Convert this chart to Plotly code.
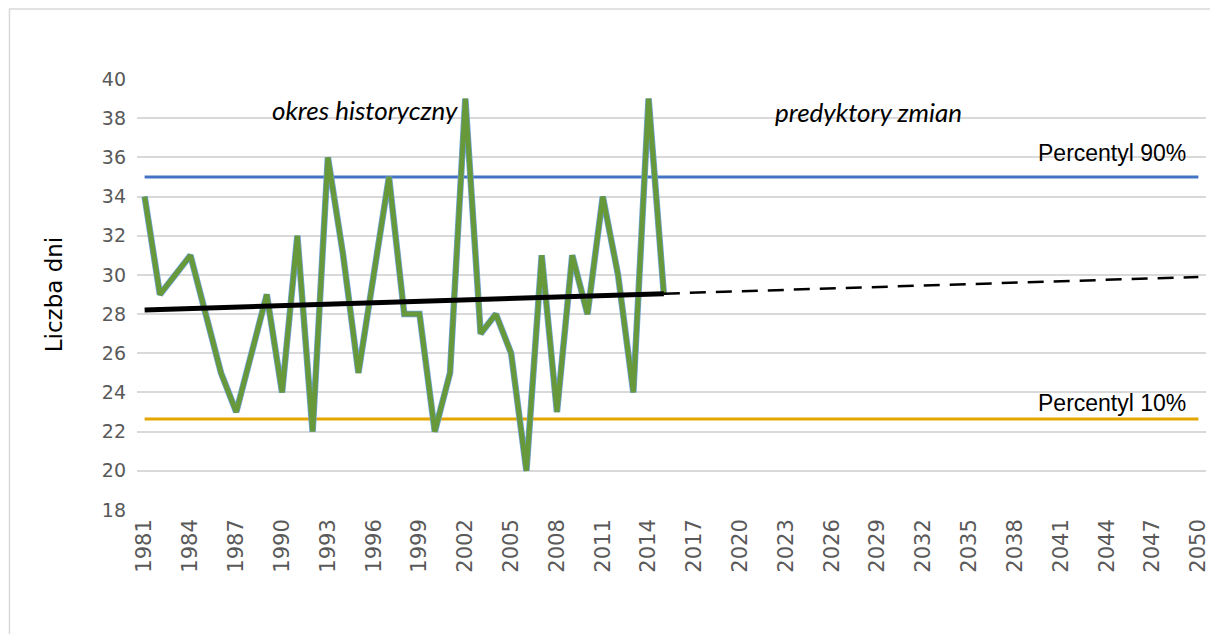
import numpy as np
import plotly.graph_objects as go

years_hist = list(range(1981, 2016))
values_hist = [34, 29, 30, 31, 28, 25, 23, 26, 29, 24,
               32, 22, 36, 31, 25, 30, 35, 28, 28, 22,
               25, 39, 27, 28, 26, 20, 31, 23, 31, 28,
               34, 30, 24, 39, 29]
all_years = list(range(1981, 2051))
tick_years = list(range(1981, 2051, 3))
p90 = 35.0
p10 = 22.65

# linear trend fitted to historical data
coef = np.polyfit(years_hist, values_hist, 1)
trend_hist_x = [1981, 2015]
trend_hist_y = [float(np.polyval(coef, x)) for x in trend_hist_x]
trend_fut_x = [2015, 2050]
trend_fut_y = [float(np.polyval(coef, x)) for x in trend_fut_x]

fig = go.Figure()
fig.add_trace(go.Scatter(x=[all_years[0], all_years[-1]], y=[p90, p90], mode="lines",
                         line=dict(color="#4472C4", width=3), hoverinfo="skip"))
fig.add_trace(go.Scatter(x=[all_years[0], all_years[-1]], y=[p10, p10], mode="lines",
                         line=dict(color="#E5A500", width=3), hoverinfo="skip"))
fig.add_trace(go.Scatter(x=years_hist, y=values_hist, mode="lines",
                         line=dict(color="#6FA1D6", width=6.5), hoverinfo="skip"))
fig.add_trace(go.Scatter(x=years_hist, y=values_hist, mode="lines",
                         line=dict(color="#67993B", width=5)))
fig.add_trace(go.Scatter(x=trend_hist_x, y=trend_hist_y, mode="lines",
                         line=dict(color="#000000", width=5)))
fig.add_trace(go.Scatter(x=trend_fut_x, y=trend_fut_y, mode="lines",
                         line=dict(color="#000000", width=2.5, dash="16px,10px")))

ann_font = dict(family="Lato, Carlito, sans-serif", size=26, color="#000000")
fig.add_annotation(x=1995.4, y=38.4, text="<i>okres historyczny</i>", showarrow=False,
                   font=ann_font)
fig.add_annotation(x=2028.4, y=38.3, text="<i>predyktory zmian</i>", showarrow=False,
                   font=ann_font)
lab_font = dict(family="Liberation Sans, Arial, sans-serif", size=23, color="#000000")
fig.add_annotation(x=2049.3, y=36.2, text="Percentyl 90%", showarrow=False,
                   xanchor="right", font=lab_font)
fig.add_annotation(x=2049.3, y=23.45, text="Percentyl 10%", showarrow=False,
                   xanchor="right", font=lab_font)

fig.add_shape(type="rect", xref="paper", yref="paper",
              x0=(9 - 137) / 1073, x1=1.02, y0=-0.32, y1=(510 - 9) / 431,
              line=dict(color="#D9D9D9", width=1.5), fillcolor="rgba(0,0,0,0)", layer="below")

fig.update_layout(
    width=1210, height=634,
    margin=dict(l=137, r=0, t=79, b=124),
    paper_bgcolor="white", plot_bgcolor="white",
    showlegend=False,
    font=dict(family="DejaVu Sans, sans-serif", color="#595959"),
)
fig.update_xaxes(range=[1980.5, 2050.5], tickmode="array", tickvals=tick_years,
                 ticktext=[str(y) for y in tick_years], tickangle=-90,
                 tickfont=dict(family="DejaVu Sans, sans-serif", size=21, color="#595959"),
                 showgrid=False, zeroline=False, showline=False, ticks="",
                 ticklabelstandoff=4, ticklabeloverflow="allow")
fig.update_yaxes(range=[18, 40], dtick=2, tick0=18, showgrid=True, gridcolor="#D9D9D9",
                 gridwidth=1.5, zeroline=False, showline=False,
                 tickfont=dict(family="DejaVu Sans, sans-serif", size=19, color="#595959"),
                 ticklabelstandoff=10,
                 title=dict(text="Liczba dni",
                            font=dict(family="DejaVu Sans, sans-serif", size=23, color="#000000"),
                            standoff=32))

fig.write_html("out.html", config={"displayModeBar": False},
               post_script="document.body.style.margin='0';document.body.style.overflow='hidden';")
